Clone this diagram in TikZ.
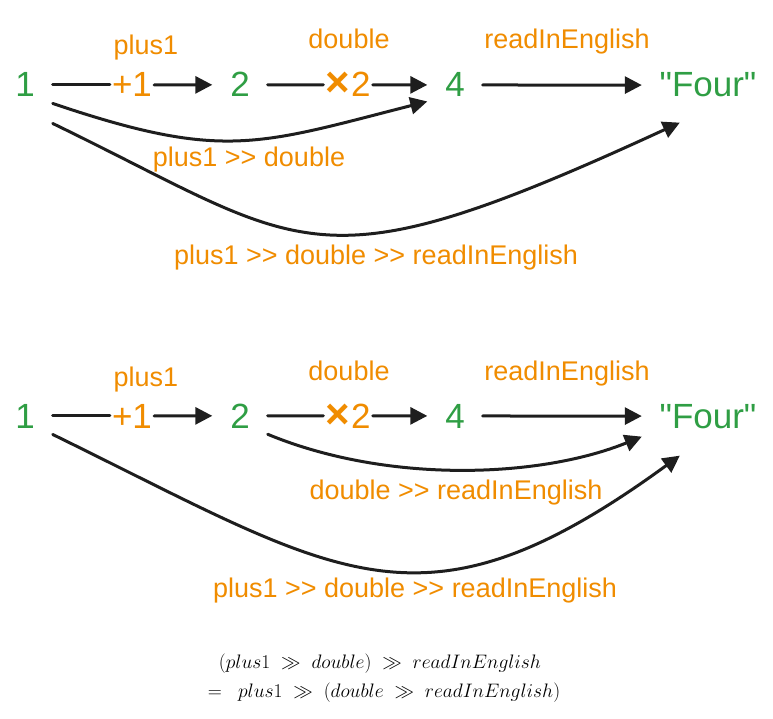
\RequirePackage{fix-cm}
\documentclass[tikz,border=0pt]{standalone}
\usepackage{fontspec}
\setmainfont{Liberation Sans}
\newfontfamily\plainquote{Liberation Sans}[Ligatures=ResetAll]
\usetikzlibrary{arrows.meta,calc}
\definecolor{exgreen}{HTML}{2F9E44}
\definecolor{exorange}{HTML}{F08C00}
\definecolor{exstroke}{HTML}{1E1E1E}
\newcommand{\timestwo}{{\bfseries\fontsize{42}{40}\selectfont ×}\kern1pt 2}
\tikzset{
  val/.style={text=exgreen, font=\fontsize{35}{40}\selectfont, inner sep=0pt, anchor=base, minimum width=55pt},
  op/.style={text=exorange, font=\fontsize{35}{40}\selectfont, inner xsep=2pt, inner ysep=0pt, anchor=base},
  lab/.style={text=exorange, font=\fontsize{27}{30}\selectfont, inner sep=0pt, anchor=base},
  conn/.style={draw=exstroke, line width=3pt, line cap=round},
  arr/.style={conn, -{Triangle[length=17pt,width=17pt]}},
  mathlab/.style={font=\fontsize{19.5}{24}\selectfont, inner sep=0pt, anchor=base},
}
\begin{document}
\begin{tikzpicture}[x=1pt,y=-1pt]
\useasboundingbox (0,0) rectangle (773,719);
% ---------- top diagram ----------
\node[val] (n1) at (25,97) {1};
\node[op]  (p1) at (132,97) {+1};
\node[val] (n2) at (240,97) {2};
\node[op]  (t2) at (348,97) {\timestwo};
\node[val] (n4) at (455,97) {4};
\node[val, minimum width=132pt] (nF) at (708,97) {{\plainquote "Four"}};
\node[lab] (l1) at (146,55) {plus1};
\node[lab] (l2) at (349,49) {double};
\node[lab] (l3) at (567,49) {readInEnglish};
\node[lab] (l4) at (249,167) {plus1 >{}> double};
\node[lab] (l5) at (376,265) {plus1 >{}> double >{}> readInEnglish};
\draw[conn] (n1) -- (p1);
\draw[arr] (p1) -- (n2);
\draw[conn] (n2) -- (t2);
\draw[arr] (t2) -- (n4);
\draw[arr] (n4) -- (nF);
\draw[arr] ([yshift=-18.5pt]n1.east) .. controls (223,161) and (257,145) .. ([yshift=-16.5pt]n4.west);
\draw[arr] ([yshift=-38.5pt]n1.east) .. controls (310,248) and (310,293) .. ([xshift=38pt,yshift=-37.5pt]nF.west);
% ---------- bottom diagram ----------
\node[val] (m1) at (25,428) {1};
\node[op]  (q1) at (132,428) {+1};
\node[val] (m2) at (240,428) {2};
\node[op]  (s2) at (348,428) {\timestwo};
\node[val] (m4) at (455,428) {4};
\node[val, minimum width=132pt] (mF) at (708,428) {{\plainquote "Four"}};
\node[lab] (k1) at (146,386) {plus1};
\node[lab] (k2) at (349,380) {double};
\node[lab] (k3) at (567,380) {readInEnglish};
\node[lab] (k4) at (456,499) {double >{}> readInEnglish};
\node[lab] (k5) at (415,597) {plus1 >{}> double >{}> readInEnglish};
\draw[conn] (m1) -- (q1);
\draw[arr] (q1) -- (m2);
\draw[conn] (m2) -- (s2);
\draw[arr] (s2) -- (m4);
\draw[arr] (m4) -- (mF);
\draw[arr] ([yshift=-18.5pt]m2.east) .. controls (388,484) and (540,478) .. ([yshift=-20.5pt]mF.west);
\draw[arr] ([yshift=-18.5pt]m1.east) .. controls (340,575) and (420,645) .. ([xshift=38pt,yshift=-39.5pt]mF.west);
% ---------- equation ----------
\node[mathlab] (e1) at (380,668) {$(plus1 \;\gg\; double) \;\gg\; readInEnglish$};
\node[mathlab] (e2) at (384,697) {$=\;\; plus1 \;\gg\; (double \;\gg\; readInEnglish)$};
\end{tikzpicture}
\end{document}
